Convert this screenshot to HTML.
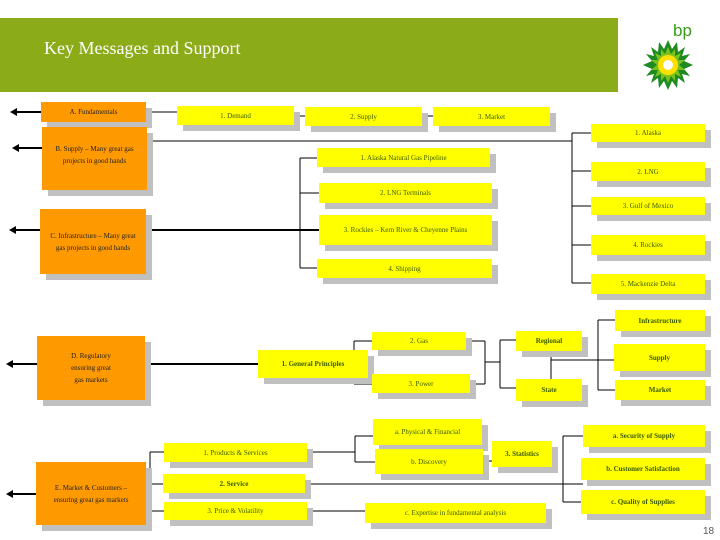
<!DOCTYPE html>
<html><head><style>
body{margin:0;width:720px;height:540px;background:#fff;position:relative;overflow:hidden;font-family:"Liberation Serif",serif}
.b{position:absolute;display:flex;align-items:center;justify-content:center;text-align:center;font-size:7px;line-height:12px;box-shadow:6px 6px 0 #c0c0c0}
.o{background:#ff9900;color:#222}
.y{background:#ffff00;color:#3a5a00}
.k{font-weight:bold}
svg{position:absolute;left:0;top:0}
</style></head><body>
<div style="position:absolute;left:0;top:18px;width:618px;height:74px;background:#8cab18"></div>
<div style="position:absolute;left:44px;top:38px;color:#fff;font-size:18px">Key Messages and Support</div>
<div style="position:absolute;left:673px;top:21px;color:#3a9a1a;font:17px 'Liberation Sans',sans-serif">bp</div>
<svg width="720" height="540">
<g transform="translate(668,65)">
<polygon fill="#1f8a1f" points="0,-25 4,-16 9,-23 10,-13 17,-18 14,-9 22,-11 16,-4 25,0 16,4 22,11 14,9 17,18 10,13 9,23 4,16 0,25 -4,16 -9,23 -10,13 -17,18 -14,9 -22,11 -16,4 -25,0 -16,-4 -22,-11 -14,-9 -17,-18 -10,-13 -9,-23 -4,-16"/>
<polygon fill="#7cc21e" points="0,-18 3,-11 7,-16 7,-9 13,-12 10,-5 17,-5 11,0 17,5 10,5 13,12 7,9 7,16 3,11 0,18 -3,11 -7,16 -7,9 -13,12 -10,5 -17,5 -11,0 -17,-5 -10,-5 -13,-12 -7,-9 -7,-16 -3,-11"/>
<circle r="10" fill="#ffe000"/><circle r="5" fill="#fff"/>
</g>
<g stroke="#000" stroke-width="1" fill="none">
<path d="M146 112H177M294 116H305M422 116H433"/>
<path d="M147 141H572M572 133V283M572 133H591M572 171H591M572 206H591M572 245H591M572 283H591"/>
<path d="M300 158V268M300 158H317M300 193H319M300 268H317"/>
<path d="M146 230H319" stroke-width="2"/>
<path d="M103 364H258" stroke-width="2"/>
<path d="M354 341V384M354 341H372M354 384H372M466 341H485M470 384H485M485 341V384M485 362H500M500 340V388M500 340H516M500 388H516M551 351V379M551 360H614M598 320V390M598 320H615M598 390H615"/>
<path d="M150 452V511M146 484H163M150 452H164M150 511H164M307 452H355M355 436V462M355 436H373M355 462H375M483 461H492M563 436V502M563 436H583M563 502H581M305 484H583M307 511H365"/>
</g>
<g stroke="#000" stroke-width="2" fill="#000">
<path d="M14 112H41M14 148H42M12 230H40M10 364H37M10 494H36"/>
</g>
<g fill="#000"><path d="M10 112l7-4v8zM12 148l7-4v8zM9 230l7-4v8zM6 364l7-4v8zM6 494l7-4v8z"/></g>
</svg>
<div class="b o" style="left:41px;top:102px;width:105px;height:20px">A. Fundamentals</div>
<div class="b o" style="left:42px;top:127px;width:105px;height:63px;align-items:flex-start;padding-top:16px;box-sizing:border-box">B. Supply – Many great gas<br>projects in good hands</div>
<div class="b o" style="left:40px;top:209px;width:106px;height:65px">C. Infrastructure – Many great<br>gas projects in good hands</div>
<div class="b o" style="left:37px;top:336px;width:108px;height:64px">D. Regulatory<br>ensuring great<br>gas markets</div>
<div class="b o" style="left:36px;top:462px;width:110px;height:63px">E. Market &amp; Customers –<br>ensuring great gas markets</div>
<div class="b y" style="left:177px;top:106px;width:117px;height:19px">1. Demand</div>
<div class="b y" style="left:305px;top:107px;width:117px;height:19px">2. Supply</div>
<div class="b y" style="left:433px;top:107px;width:117px;height:19px">3. Market</div>
<div class="b y" style="left:591px;top:124px;width:114px;height:18px">1. Alaska</div>
<div class="b y" style="left:591px;top:162px;width:114px;height:19px">2. LNG</div>
<div class="b y" style="left:591px;top:197px;width:114px;height:18px">3. Gulf of Mexico</div>
<div class="b y" style="left:591px;top:235px;width:114px;height:20px">4. Rockies</div>
<div class="b y" style="left:591px;top:274px;width:114px;height:20px">5. Mackenzie Delta</div>
<div class="b y" style="left:317px;top:148px;width:173px;height:19px">1. Alaska Natural Gas Pipeline</div>
<div class="b y" style="left:319px;top:183px;width:173px;height:20px">2. LNG Terminals</div>
<div class="b y" style="left:319px;top:215px;width:173px;height:30px">3. Rockies – Kern River &amp; Cheyenne Plains</div>
<div class="b y" style="left:317px;top:259px;width:175px;height:19px">4. Shipping</div>
<div class="b y k" style="left:258px;top:350px;width:110px;height:28px">1. General Principles</div>
<div class="b y" style="left:372px;top:332px;width:94px;height:18px">2. Gas</div>
<div class="b y" style="left:372px;top:374px;width:98px;height:19px">3. Power</div>
<div class="b y k" style="left:516px;top:331px;width:66px;height:20px">Regional</div>
<div class="b y k" style="left:516px;top:379px;width:66px;height:22px">State</div>
<div class="b y k" style="left:615px;top:310px;width:90px;height:21px">Infrastructure</div>
<div class="b y k" style="left:614px;top:344px;width:91px;height:27px">Supply</div>
<div class="b y k" style="left:615px;top:380px;width:90px;height:20px">Market</div>
<div class="b y" style="left:373px;top:419px;width:109px;height:26px">a. Physical &amp; Financial</div>
<div class="b y" style="left:375px;top:449px;width:108px;height:25px">b. Discovery</div>
<div class="b y k" style="left:492px;top:441px;width:60px;height:26px">3. Statistics</div>
<div class="b y" style="left:164px;top:443px;width:143px;height:19px">1. Products &amp; Services</div>
<div class="b y k" style="left:163px;top:474px;width:142px;height:19px">2. Service</div>
<div class="b y" style="left:164px;top:502px;width:143px;height:18px">3. Price &amp; Volatility</div>
<div class="b y" style="left:365px;top:503px;width:181px;height:20px">c. Expertise in fundamental analysis</div>
<div class="b y k" style="left:583px;top:425px;width:122px;height:22px">a. Security of Supply</div>
<div class="b y k" style="left:581px;top:458px;width:124px;height:22px">b. Customer Satisfaction</div>
<div class="b y k" style="left:581px;top:490px;width:124px;height:24px">c. Quality of Supplies</div>
<div style="position:absolute;left:703px;top:526px;font:10px 'Liberation Sans',sans-serif;color:#555">18</div>
</body></html>
